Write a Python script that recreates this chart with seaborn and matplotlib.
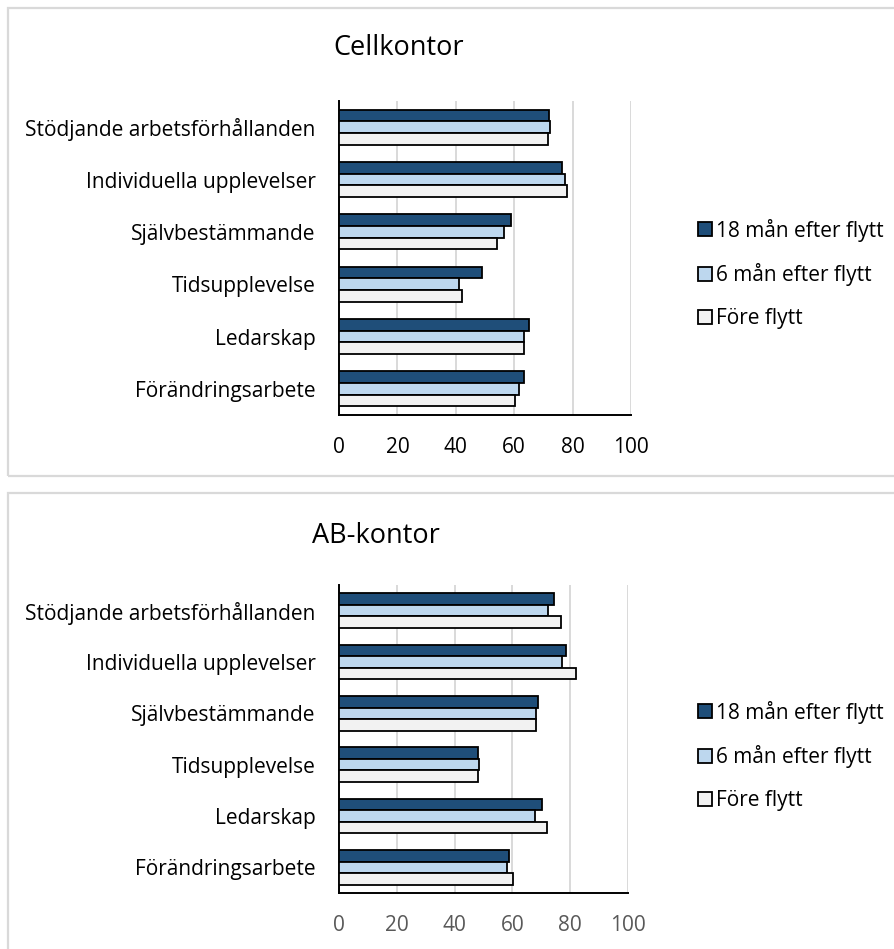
import matplotlib
matplotlib.use("Agg")
import matplotlib.pyplot as plt
from matplotlib.patches import Rectangle, Patch
import seaborn as sns
import pandas as pd

categories = [
    "Stödjande arbetsförhållanden",
    "Individuella upplevelser",
    "Självbestämmande",
    "Tidsupplevelse",
    "Ledarskap",
    "Förändringsarbete",
]
series_names = ["18 mån efter flytt", "6 mån efter flytt", "Före flytt"]

# Cellkontor
cell_18 = [72, 76.5, 59, 49, 65, 63.5]
cell_6 = [72.3, 77.3, 56.5, 41, 63.3, 61.5]
cell_fore = [71.7, 78.2, 54, 42, 63.5, 60.2]

# AB-kontor
ab_18 = [74.5, 78.5, 68.7, 48, 70.2, 58.8]
ab_6 = [72.3, 77.3, 68.2, 48.5, 67.7, 58]
ab_fore = [76.8, 82, 68.3, 48, 72.1, 60.2]

ticks = [0, 20, 40, 60, 80, 100]
palette = ["#1F4E79", "#BDD7EE", "#F2F2F2"]

W, H = 894, 949
plt.rcParams["font.family"] = ["Open Sans", "DejaVu Sans"]

fig = plt.figure(figsize=(W / 100, H / 100), dpi=100)
fig.patch.set_facecolor("white")


def frac_box(x0, y0, x1, y1):
    """Pixel box (top-left origin) to figure fraction [left, bottom, w, h]."""
    return [x0 / W, 1 - y1 / H, (x1 - x0) / W, (y1 - y0) / H]


def make_df(v18, v6, vf):
    rows = []
    for name, vals in zip(series_names, [v18, v6, vf]):
        for c, v in zip(categories, vals):
            rows.append({"kategori": c, "serie": name, "värde": v})
    return pd.DataFrame(rows)


panels = [
    dict(title="Cellkontor", data=(cell_18, cell_6, cell_fore),
         ax=(339, 101, 631, 415), title_xy=(399, 48), tick_color="black",
         legend_y=274, frame=(8, 8, 900, 476)),
    dict(title="AB-kontor", data=(ab_18, ab_6, ab_fore),
         ax=(339, 585, 628, 893), title_xy=(376, 536), tick_color="#595959",
         legend_y=756, frame=(8, 493, 900, 960)),
]

for p in panels:
    # light grey frame around each chart
    fx0, fy0, fx1, fy1 = p["frame"]
    fig.patches.append(Rectangle((fx0 / W, 1 - fy1 / H), (fx1 - fx0) / W, (fy1 - fy0) / H,
                                 transform=fig.transFigure, fill=False,
                                 edgecolor="#D9D9D9", linewidth=1.6, zorder=0))

    ax = fig.add_axes(frac_box(*p["ax"]))
    df = make_df(*p["data"])
    sns.barplot(data=df, y="kategori", x="värde", hue="serie", order=categories,
                hue_order=series_names, palette=palette, orient="h",
                width=0.675, gap=0, edgecolor="black", linewidth=1.3,
                saturation=1, legend=False, ax=ax, zorder=3)
    ax.set_xlim(0, 100)
    ax.set_ylim(len(categories) - 0.5, -0.5)
    ax.set_xticks(ticks)
    ax.set_xticklabels([str(t) for t in ticks], fontsize=15, color=p["tick_color"])
    ax.tick_params(axis="both", length=0)
    ax.tick_params(axis="x", pad=16)
    ax.tick_params(axis="y", pad=17, labelsize=15)
    ax.set_xlabel("")
    ax.set_ylabel("")
    ax.grid(axis="x", color="#D9D9D9", linewidth=1.4, zorder=0)
    ax.set_axisbelow(True)
    for side in ["top", "right"]:
        ax.spines[side].set_visible(False)
    for side in ["left", "bottom"]:
        ax.spines[side].set_color("black")
        ax.spines[side].set_linewidth(1.4)

    tx, ty = p["title_xy"]
    fig.text(tx / W, 1 - ty / H, p["title"], ha="center", va="center", fontsize=19.5)

    handles = [Patch(facecolor=c, edgecolor="black", linewidth=1.3) for c in palette]
    fig.legend(handles, series_names, loc="center left",
               bbox_to_anchor=(688 / W, 1 - p["legend_y"] / H),
               frameon=False, fontsize=15, handlelength=0.65, handleheight=0.65,
               handletextpad=0.2, labelspacing=1.05, borderpad=0)

fig.savefig("out.png", dpi=100, facecolor="white")
